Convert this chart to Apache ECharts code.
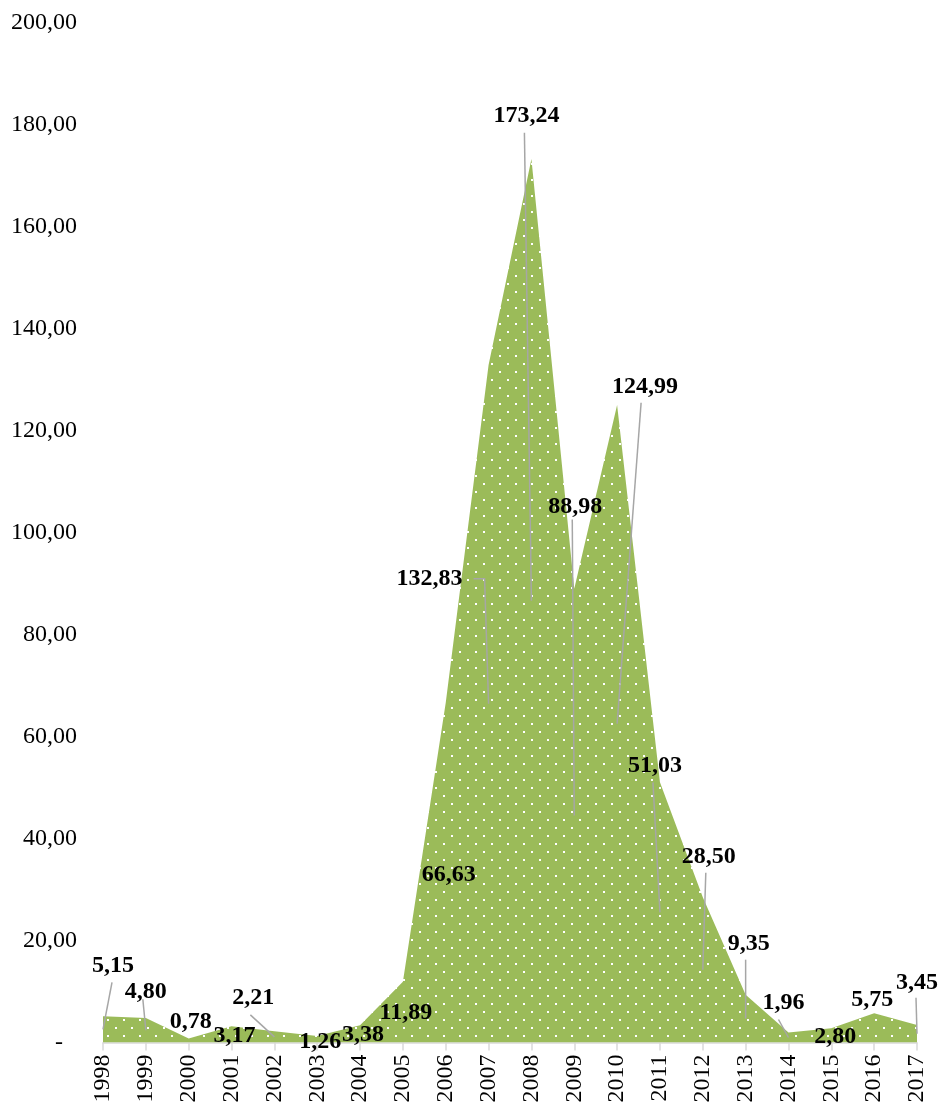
<!DOCTYPE html>
<html>
<head>
<meta charset="utf-8">
<script src="https://cdn.jsdelivr.net/npm/echarts@6/dist/echarts.min.js"></script>
<style>
html,body{margin:0;padding:0;background:#fff;}
#chart{width:940px;height:1107px;}
</style>
</head>
<body>
<div id="chart"></div>
<script>
// ---- data ----
var years = ['1998','1999','2000','2001','2002','2003','2004','2005','2006','2007',
             '2008','2009','2010','2011','2012','2013','2014','2015','2016','2017'];
var values = [5.15, 4.80, 0.78, 3.17, 2.21, 1.26, 3.38, 11.89, 66.63, 132.83,
              173.24, 88.98, 124.99, 51.03, 28.50, 9.35, 1.96, 2.80, 5.75, 3.45];
var yTicks = {min: 0, max: 200, interval: 20};

// ---- label placement (pixel offsets from the label anchor = half of the value) ----
// [dx, dy, leaderType, sx, sy]   leaderType: 0 none, 1 straight from label, 2 elbow from right side
var labelPlace = [
  [10, -64, 1, -1, 17], [0, -38, 1, -3, 7], [2, -19, 0], [3, 1, 0], [-21, -39, 1, -3, 17],
  [3, 3, 0], [3, 1, 0], [3, 1, 0], [3, 2, 0], [-59, -125, 2, 44, 0],
  [-5, -485, 1, -2, 17], [1, -309, 1, -3, 13], [28, -337, 1, -4, 16], [-5, -147, 1, -2, 17], [6, -113, 1, -3, 16],
  [3, -75, 1, -3, 16], [-5, -35, 1, -5, 17], [4, 1, 0], [-2, -28, 0], [0, -51, 1, -1, 15]
];

var SERIF = '"Liberation Serif", "Times New Roman", serif';

function fmt(v) { return v.toFixed(2).replace('.', ','); }

// dotted pattern fill
var pc = document.createElement('canvas');
pc.width = 16; pc.height = 16;
var pctx = pc.getContext('2d');
pctx.fillStyle = '#9BBB59';
pctx.fillRect(0, 0, 16, 16);
pctx.fillStyle = '#ffffff';
pctx.fillRect(3, 3, 2, 2);
pctx.fillRect(11, 11, 2, 2);

var chart = echarts.init(document.getElementById('chart'), null, {renderer: 'canvas'});

var option = {
  animation: false,
  backgroundColor: '#ffffff',
  grid: {left: 103, right: 23, top: 22.5, bottom: 64.5, containLabel: false},
  xAxis: {
    type: 'category',
    data: years,
    boundaryGap: false,
    axisLine: {show: true, lineStyle: {color: '#d9d9d9', width: 1.5}},
    axisTick: {show: true, length: 8, lineStyle: {color: '#d9d9d9', width: 1.5}},
    axisLabel: {rotate: 90, margin: 12, fontSize: 24, color: '#000', fontFamily: SERIF, interval: 0},
    splitLine: {show: false}
  },
  yAxis: {
    type: 'value',
    min: yTicks.min, max: yTicks.max, interval: yTicks.interval,
    axisLine: {show: false},
    axisTick: {show: false},
    splitLine: {show: false},
    axisLabel: {
      margin: 26, fontSize: 24, color: '#000', fontFamily: SERIF,
      formatter: function (v) { return v === 0 ? '{d|-}' : fmt(v); },
      rich: {d: {padding: [0, 14, 0, 0], fontSize: 24, color: '#000', fontFamily: SERIF}}
    }
  },
  series: [
    {
      type: 'line',
      data: values,
      symbol: 'none',
      lineStyle: {width: 0, opacity: 0},
      areaStyle: {color: {image: pc, repeat: 'repeat'}, opacity: 1},
      z: 2
    },
    {
      type: 'custom',
      clip: false,
      z: 5,
      data: values.map(function (v, i) { return [i, v]; }),
      renderItem: function (params, api) {
        var i = api.value(0), v = api.value(1);
        var a = api.coord([i, v / 2]);
        var p = labelPlace[i];
        var cx = a[0] + p[0], cy = a[1] + p[1];
        var children = [];
        if (p[2] === 1) {
          children.push({
            type: 'line',
            shape: {x1: cx + p[3], y1: cy + p[4], x2: a[0], y2: a[1]},
            style: {stroke: '#a6a6a6', lineWidth: 1.5}
          });
        } else if (p[2] === 2) {
          var sx = cx + p[3];
          children.push({
            type: 'polyline',
            shape: {points: [[sx, cy], [sx + 11, cy], [a[0], a[1]]]},
            style: {stroke: '#a6a6a6', lineWidth: 1.5, fill: null}
          });
        }
        children.push({
          type: 'text',
          style: {
            text: fmt(v), x: cx, y: cy, align: 'center', verticalAlign: 'middle',
            font: 'bold 24px ' + SERIF, fill: '#000'
          }
        });
        return {type: 'group', children: children};
      }
    }
  ]
};
chart.setOption(option);
</script>
</body>
</html>
